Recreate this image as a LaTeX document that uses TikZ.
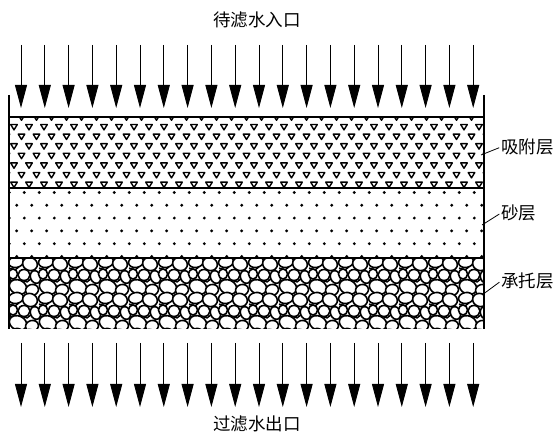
\documentclass[tikz,border=0pt]{standalone}
\usepackage{fontspec}
\newfontfamily\cjk{Noto Sans CJK SC}
\usetikzlibrary{arrows.meta}
\newcommand*{\tankL}{9}
\newcommand*{\tankR}{484}
\newcommand*{\tankT}{95}
\newcommand*{\bedA}{117}
\newcommand*{\bedB}{188}
\newcommand*{\bedC}{258}
\newcommand*{\bedD}{329}
\newcommand*{\pitch}{23.8}

\tikzset{
  flow/.style={line width=0.9pt, -{Triangle[width=12pt,length=23pt]}},
  wall/.style={line width=1.4pt},
  tri/.style={line width=1.4pt, line join=round},
  grain/.style={fill=black},
  pebble/.style={draw, fill=white, line width=1.6pt},
  gap/.style={line width=1.4pt},
  leader/.style={line width=0.8pt, shorten >=2pt},
  lbl/.style={font=\cjk\fontsize{17.5}{20}\selectfont, inner sep=0pt},
}

\begin{document}
\begin{tikzpicture}[x=1pt, y=-1pt]
    \useasboundingbox (0,0) rectangle (555,435);

    % adsorption layer: small inverted triangles
    \begin{scope}
        \clip (\tankL,\bedA) rectangle (\tankR,\bedB);
        \foreach \r in {0,...,7} {
            \pgfmathsetmacro\ty{\bedA+0.5+\r*9.6}
            \pgfmathsetmacro\tx{6.5+7.5*mod(\r,2)}
            \foreach \c in {0,...,32}
                \draw [tri] (\tx+\c*15-3.3,\ty-2.6) -- ++(6.6,0) -- ++(-3.3,5.4) -- cycle;
        }
    \end{scope}

    % sand layer: dots
    \begin{scope}
        \clip (\tankL+1,\bedB) rectangle (\tankR-1,\bedC+3);
        \foreach \r in {0,...,5} {
            \pgfmathsetmacro\dy{192.5+\r*12.8}
            \pgfmathsetmacro\dx{9.3-7.6*mod(\r,2)}
            \foreach \c in {0,...,32}
                \fill [grain] (\dx+\c*15,\dy) circle (1.6);
        }
    \end{scope}

    % support layer: gravel
    \begin{scope}
        \clip (\tankL,\bedC) rectangle (\tankR,\bedD);
        \foreach \gy in {-36,0,36,72} {
            \foreach \gx in {-30,0,...,480} {
                \begin{scope}[shift={(\tankL+\gx,\bedC+\gy)}]
                    % small chips between the stones
                    \draw [gap] (0,10) -- (6,12) -- (10,9) (12,22) -- (18,24) -- (22,21)
                                (2,22) -- (5,26) (26,26) -- (30,24) (14,2) -- (16,8);
                    \draw [pebble] (7,4)    ellipse [x radius=7.5, y radius=5.5, rotate=10];
                    \draw [pebble] (21,6)   ellipse [x radius=7.5, y radius=6.5, rotate=-20];
                    \draw [pebble] (4,16)   ellipse [x radius=4.5, y radius=5];
                    \draw [pebble] (15,17)  ellipse [x radius=6,   y radius=5.5];
                    \draw [pebble] (26.5,19) ellipse [x radius=5,  y radius=6.5, rotate=20];
                    \draw [pebble] (9,29)   ellipse [x radius=9,   y radius=7,   rotate=-25];
                    \draw [pebble] (23,32)  ellipse [x radius=6.5, y radius=5.5, rotate=15];
                \end{scope}
            }
        }
    \end{scope}

    % tank walls and layer boundaries
    \draw [wall] (\tankL,\tankT) -- (\tankL,\bedD);
    \draw [wall] (\tankR,\tankT) -- (\tankR,\bedD);
    \foreach \b in {\bedA,\bedB,\bedC}
        \draw [wall] (\tankL,\b) -- (\tankR,\b);

    % inflow and outflow arrows
    \foreach \i in {0,...,19} {
        \coordinate (inA\i)  at (21+\i*\pitch,45);
        \coordinate (inB\i)  at (21+\i*\pitch,108);
        \coordinate (outA\i) at (21+\i*\pitch,343);
        \coordinate (outB\i) at (21+\i*\pitch,407);
        \draw [flow] (inA\i) -- (inB\i);
        \draw [flow] (outA\i) -- (outB\i);
    }

    \node [lbl] (inlet)  at (257,20)  {待滤水入口};
    \node [lbl] (outlet) at (257,424) {过滤水出口};

    \node [lbl, anchor=west] (adsorb) at (501,147) {吸附层};
    \node [lbl, anchor=west] (sand)   at (501,213) {砂层};
    \node [lbl, anchor=west] (gravel) at (501,281) {承托层};
    \coordinate (ptA) at (481,155);
    \coordinate (ptB) at (482,225);
    \coordinate (ptC) at (482,295);
    \draw [leader] (ptA) -- (adsorb.west);
    \draw [leader] (ptB) -- (sand.west);
    \draw [leader] (ptC) -- (gravel.west);
\end{tikzpicture}
\end{document}
